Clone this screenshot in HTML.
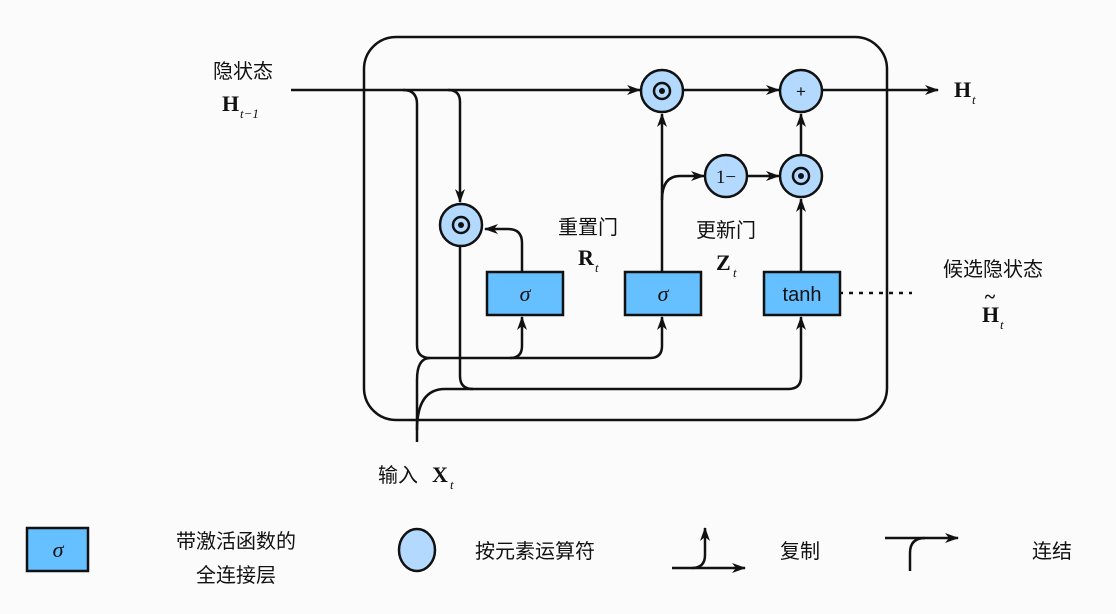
<!DOCTYPE html>
<html><head><meta charset="utf-8"><style>
html,body{margin:0;padding:0;background:#fbfbfb;}
svg{display:block;}
.cn{font-family:"Liberation Sans","Noto Sans CJK SC",sans-serif;font-size:20px;fill:#111;}
.m{font-family:"Liberation Serif",serif;font-weight:bold;font-size:22px;fill:#111;}
.s{font-family:"Liberation Serif",serif;font-style:italic;font-size:13px;fill:#111;}
</style></head><body>
<svg width="1116" height="614" viewBox="0 0 1116 614" xmlns="http://www.w3.org/2000/svg">
<defs>
<marker id="a" markerWidth="14" markerHeight="10" refX="13" refY="5" orient="auto" markerUnits="userSpaceOnUse">
<path d="M0,0 L14,5 L0,10 L4,5 Z" fill="#111"/></marker>
<g id="dot"><circle r="21" fill="#b3d9ff" stroke="#111" stroke-width="2.5"/><circle r="8" fill="none" stroke="#111" stroke-width="2.5"/><circle r="3" fill="#111"/></g>
</defs>
<rect width="1116" height="614" fill="#fbfbfb"/>
<g fill="none" stroke="#111" stroke-width="2.5">
<rect x="364" y="37" width="523" height="383" rx="32"/>
<!-- H_{t-1} main line -->
<path d="M291,90 H640" marker-end="url(#a)"/>
<path d="M403,90 Q417,90 417,104 V345 Q417,358 430,358 H510 Q522,358 522,346 V317" marker-end="url(#a)"/>
<path d="M510,358 H650 Q662,358 662,346 V317" marker-end="url(#a)"/>
<path d="M448,90 Q460,90 460,102 V202" marker-end="url(#a)"/>
<path d="M460,246 V376 Q460,389 473,389 H788 Q801,389 801,377 V317" marker-end="url(#a)"/>
<!-- input X -->
<path d="M417,442 V380 Q417,358 430,358"/>
<path d="M417,430 Q417,389 445,389 H473"/>
<!-- gates -->
<path d="M522,272 V243 Q522,229 508,229 H485" marker-end="url(#a)"/>
<path d="M662,272 V114" marker-end="url(#a)"/>
<path d="M662,200 Q662,176 680,176 H704" marker-end="url(#a)"/>
<path d="M747,176 H779" marker-end="url(#a)"/>
<path d="M801,272 V199" marker-end="url(#a)"/>
<path d="M801,155 V114" marker-end="url(#a)"/>
<path d="M683,90 H779" marker-end="url(#a)"/>
<path d="M822,90 H938" marker-end="url(#a)"/>
<path d="M839,293 H912" stroke-dasharray="4,6"/>
<!-- legend arrows -->
<path d="M672,568 H745" marker-end="url(#a)"/>
<path d="M692,568 Q705,568 705,555 V528" marker-end="url(#a)"/>
<path d="M885,538 H958" marker-end="url(#a)"/>
<path d="M910,571 V553 Q910,538 925,538"/>
</g>
<use href="#dot" x="662" y="91"/>
<use href="#dot" x="801" y="176"/>
<use href="#dot" x="461" y="225"/>
<circle cx="801" cy="91" r="21" fill="#b3d9ff" stroke="#111" stroke-width="2.5"/>
<text x="801" y="97" text-anchor="middle" font-family="Liberation Sans,sans-serif" font-size="17" fill="#111">+</text>
<circle cx="726" cy="176" r="21" fill="#b3d9ff" stroke="#111" stroke-width="2.5"/>
<text x="726" y="183" text-anchor="middle" font-family="Liberation Serif,serif" font-size="19" fill="#111">1−</text>
<g stroke="#111" stroke-width="2.5" fill="#66bfff">
<rect x="487" y="272" width="76" height="43"/>
<rect x="625" y="272" width="76" height="43"/>
<rect x="764" y="272" width="76" height="43"/>
<rect x="27" y="528" width="61" height="43"/>
</g>
<ellipse cx="417" cy="550" rx="18" ry="21" fill="#b3d9ff" stroke="#111" stroke-width="2.5"/>
<g font-family="Liberation Serif,serif" font-style="italic" font-size="22" fill="#111" text-anchor="middle">
<text x="525" y="301">σ</text><text x="663" y="301">σ</text><text x="58" y="557">σ</text>
</g>
<text x="802" y="301" text-anchor="middle" font-family="Liberation Sans,sans-serif" font-size="20" fill="#111">tanh</text>
<g class="cn" text-anchor="middle">
<text x="243" y="78">隐状态</text>
<text x="588" y="234">重置门</text>
<text x="726" y="237">更新门</text>
<text x="993" y="276">候选隐状态</text>
<text x="236" y="548">带激活函数的</text>
<text x="236" y="582">全连接层</text>
<text x="535" y="558">按元素运算符</text>
<text x="800" y="558">复制</text>
<text x="1052" y="558">连结</text>
</g>
<text class="cn" x="378" y="482">输入</text>
<text class="m" x="222" y="111">H</text><text class="s" x="240" y="118">t−1</text>
<text class="m" x="578" y="265">R</text><text class="s" x="595" y="272">t</text>
<text class="m" x="716" y="270">Z</text><text class="s" x="733" y="277">t</text>
<text class="m" x="954" y="97">H</text><text class="s" x="972" y="104">t</text>
<text class="m" x="982" y="322">H</text><text class="s" x="1000" y="329">t</text>
<text x="990" y="303" font-family="Liberation Serif,serif" font-weight="bold" font-size="20" fill="#111" text-anchor="middle">~</text>
<text class="m" x="432" y="482">X</text><text class="s" x="450" y="489">t</text>
</svg>
</body></html>
